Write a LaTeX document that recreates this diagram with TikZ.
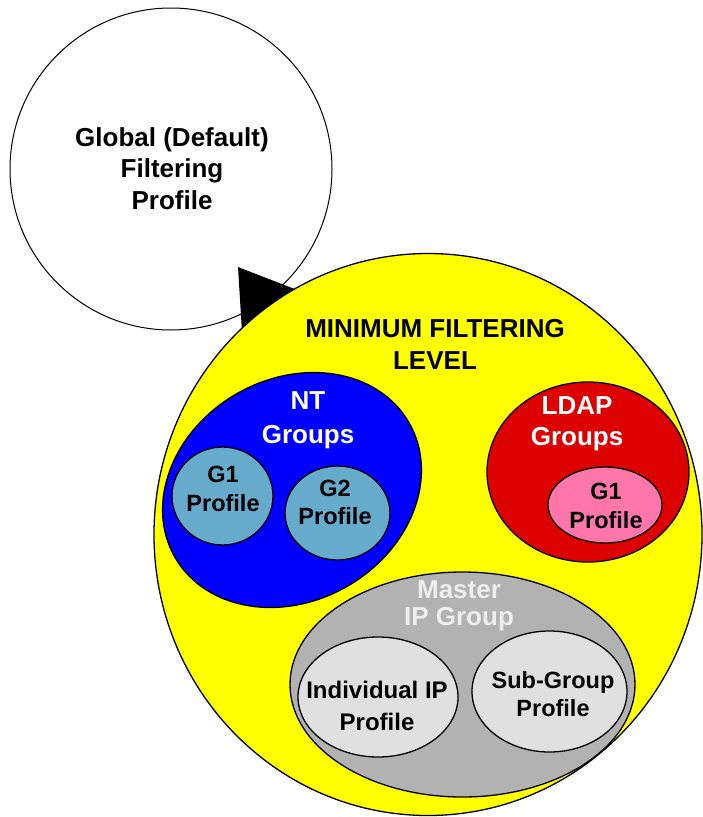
\documentclass[tikz,border=0pt]{standalone}
\usepackage{fontspec}
\setmainfont{Liberation Sans}
\usetikzlibrary{shapes.geometric}
\definecolor{yel}{RGB}{255,255,0}
\definecolor{ntblue}{RGB}{0,0,255}
\definecolor{prof}{RGB}{102,170,204}
\definecolor{ldapred}{RGB}{221,0,0}
\definecolor{pinkp}{RGB}{255,119,170}
\definecolor{mgrey}{RGB}{178,178,178}
\definecolor{lgrey}{RGB}{224,224,224}
\definecolor{mtext}{RGB}{238,238,238}
\begin{document}
\begin{tikzpicture}[x=1pt,y=-1pt,
  blob/.style={ellipse, draw=black, line width=1.3pt, inner sep=0pt, outer sep=0pt},
  lbl/.style={font=\bfseries\fontsize{26}{31}\selectfont, align=center, inner sep=0pt, text=black},
  small/.style={lbl, font=\bfseries\fontsize{23.5}{28.5}\selectfont}]
\useasboundingbox (0,0) rectangle (703,817);
% global profile
\node[blob, fill=white, line width=1pt, minimum width=322pt, minimum height=322pt] (global) at (171,169) {};
\node[lbl, font=\bfseries\fontsize{26}{31.5}\selectfont] (globaltxt) at (172,168.5) {Global (Default)\\Filtering\\Profile};
% arrowhead
\coordinate (tipA) at (238,267);
\coordinate (tipB) at (242,332);
\coordinate (tipC) at (310,295);
\fill[black] (tipA) -- (tipB) -- (tipC) -- cycle;
% minimum filtering level
\node[blob, fill=yel, minimum width=548pt, minimum height=562pt] (minlevel) at (428,534.5) {};
\node[lbl, font=\bfseries\fontsize{26}{32}\selectfont] (mintxt) at (435,344) {MINIMUM FILTERING\\LEVEL};
% NT groups
\node[blob, fill=ntblue, rotate=30, minimum width=270pt, minimum height=222pt] (nt) at (292,490) {};
\node[lbl, text=white, font=\bfseries\fontsize{26}{34}\selectfont] (nttxt) at (308,420) {NT\\Groups};
\node[blob, fill=prof, minimum width=101pt, minimum height=98pt] (ntg1) at (222.5,496) {};
\node[small] (ntg1txt) at (223,489) {G1\\Profile};
\node[blob, fill=prof, minimum width=105pt, minimum height=94pt] (ntg2) at (337.5,513) {};
\node[small] (ntg2txt) at (335,502.5) {G2\\Profile};
% LDAP groups
\node[blob, fill=ldapred, minimum width=202pt, minimum height=180pt] (ldap) at (588,472) {};
\node[lbl, text=white] (ldaptxt) at (577,423.5) {LDAP\\Groups};
\node[blob, fill=pinkp, minimum width=114pt, minimum height=76pt] (ldapg1) at (605,505) {};
\node[small] (ldapg1txt) at (606,506) {G1\\Profile};
% Master IP group
\node[blob, fill=mgrey, minimum width=345pt, minimum height=225pt] (master) at (462.5,684.5) {};
\node[lbl, text=mtext, font=\bfseries\fontsize{26}{27}\selectfont] (mastertxt) at (459,605.5) {Master\\IP Group};
\node[blob, fill=lgrey, minimum width=160pt, minimum height=120pt] (indiv) at (378,697) {};
\node[small, font=\bfseries\fontsize{24}{32}\selectfont] (indivtxt) at (377,706) {Individual IP\\Profile};
\node[blob, fill=lgrey, minimum width=155pt, minimum height=121pt] (subgrp) at (549.5,691.5) {};
\node[small] (subgrptxt) at (553,694) {Sub-Group\\Profile};
\end{tikzpicture}
\end{document}
